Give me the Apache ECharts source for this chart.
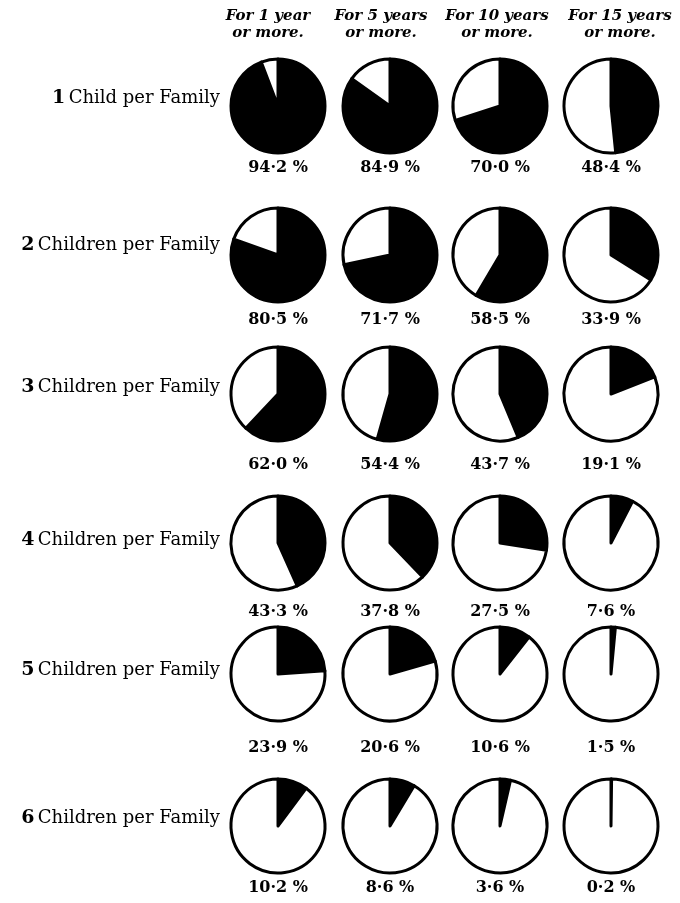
<!DOCTYPE html>
<html>
<head>
<meta charset="utf-8">
<script src="https://cdn.jsdelivr.net/npm/echarts@6/dist/echarts.min.js"></script>
<style>
  html, body { margin: 0; padding: 0; background: #fff; }
  #chart { width: 680px; height: 903px; }
</style>
</head>
<body>
<div id="chart"></div>
<script>
// data
var periods = ['For 1 year', 'For 5 years', 'For 10 years', 'For 15 years'];
var periodSub = 'or more.';
var familyNum = ['1', '2', '3', '4', '5', '6'];
var familyText = ['Child per Family', 'Children per Family', 'Children per Family',
                  'Children per Family', 'Children per Family', 'Children per Family'];
var row1 = [94.2, 84.9, 70.0, 48.4];
var row2 = [80.5, 71.7, 58.5, 33.9];
var row3 = [62.0, 54.4, 43.7, 19.1];
var row4 = [43.3, 37.8, 27.5, 7.6];
var row5 = [23.9, 20.6, 10.6, 1.5];
var row6 = [10.2, 8.6, 3.6, 0.2];
var rowsData = [row1, row2, row3, row4, row5, row6];

// layout
var colX = [278, 390, 500, 611];
var headX = [268, 381, 497, 620];
var rowY = [106, 255, 394, 543, 674, 826];
var labelY = [98, 245, 387, 540, 670, 818];
var pctY = [168, 320, 465, 612, 748, 888];
var R = 47;

function fmt(v){
  return v.toFixed(1).replace('.', '\u00b7') + ' %';
}

var series = [];
var graphic = [];

for (var c = 0; c < periods.length; c++) {
  graphic.push({
    type: 'text', x: headX[c], y: 16,
    style: { text: periods[c], font: 'italic bold 15px "DejaVu Serif"', fill: '#000',
             align: 'center', verticalAlign: 'middle', textAlign: 'center', textVerticalAlign: 'middle' }
  });
  graphic.push({
    type: 'text', x: headX[c], y: 33,
    style: { text: periodSub, font: 'italic bold 15px "DejaVu Serif"', fill: '#000',
             align: 'center', verticalAlign: 'middle', textAlign: 'center', textVerticalAlign: 'middle' }
  });
}

for (var r = 0; r < rowsData.length; r++) {
  graphic.push({
    type: 'text', x: 220, y: labelY[r],
    style: {
      text: '{n|' + familyNum[r] + '} {t|' + familyText[r] + '}',
      align: 'right', verticalAlign: 'middle', textAlign: 'right', textVerticalAlign: 'middle',
      rich: {
        n: { fill: '#000', fontWeight: 'bold', fontSize: 19, fontFamily: 'DejaVu Serif' },
        t: { fill: '#000', fontSize: 18, fontFamily: 'DejaVu Serif' }
      }
    }
  });
  for (var c = 0; c < 4; c++) {
    var v = rowsData[r][c];
    series.push({
      type: 'pie',
      center: [colX[c], rowY[r]],
      radius: [0, R],
      startAngle: 90,
      clockwise: true,
      silent: true,
      animation: false,
      label: { show: false },
      labelLine: { show: false },
      itemStyle: { borderColor: '#000', borderWidth: 3 },
      data: [
        { value: v, itemStyle: { color: '#000' } },
        { value: +(100 - v).toFixed(1), itemStyle: { color: '#fff' } }
      ]
    });
    graphic.push({
      type: 'text', x: colX[c], y: pctY[r],
      style: { text: fmt(v), font: 'bold 16px "DejaVu Serif"', fill: '#000',
               align: 'center', verticalAlign: 'middle', textAlign: 'center', textVerticalAlign: 'middle' }
    });
  }
}

var myChart = echarts.init(document.getElementById('chart'));
myChart.setOption({
  backgroundColor: '#fff',
  animation: false,
  graphic: graphic,
  series: series
});
</script>
</body>
</html>
